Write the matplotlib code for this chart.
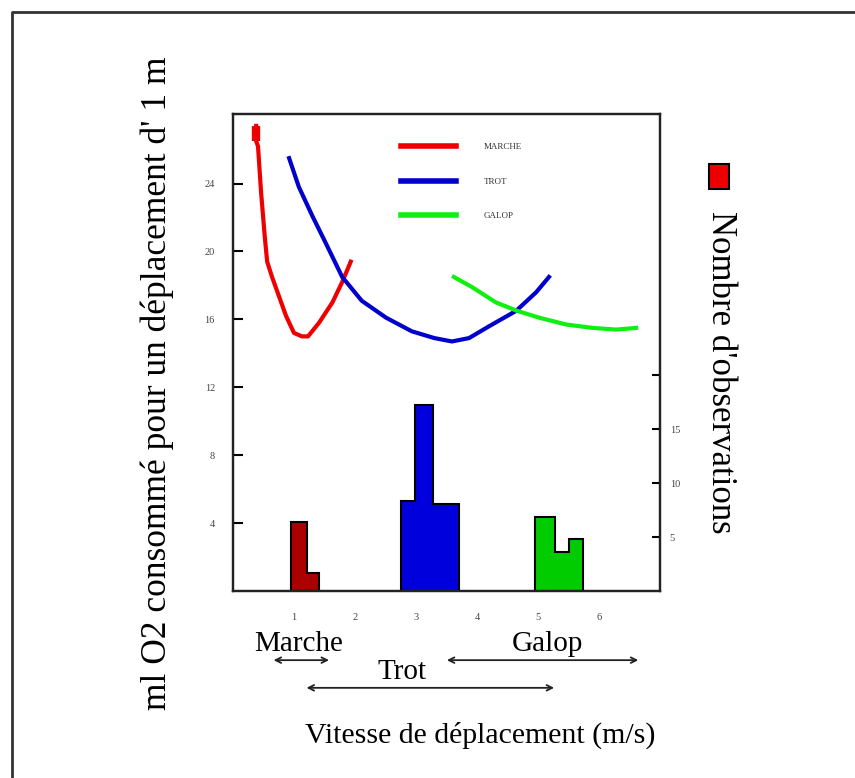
import numpy as np
import matplotlib.pyplot as plt
from matplotlib.patches import Rectangle
from matplotlib.lines import Line2D

plt.rcParams['font.family'] = ['Liberation Serif', 'DejaVu Serif']

# O2 cost curves (speed m/s, ml O2 per m)
marche_x = [0.38, 0.38, 0.41, 0.46, 0.52, 0.56, 0.64, 0.75, 0.87, 1.00, 1.13, 1.23, 1.41, 1.63, 1.79, 1.93]
marche_y = [27.4, 26.5, 26.2, 23.5, 20.9, 19.4, 18.5, 17.4, 16.2, 15.2, 15.0, 15.0, 15.8, 17.0, 18.2, 19.4]
trot_x = [0.92, 1.08, 1.30, 1.52, 1.79, 2.11, 2.51, 2.93, 3.30, 3.59, 3.87, 4.20, 4.64, 4.97, 5.18]
trot_y = [25.5, 23.8, 22.1, 20.5, 18.5, 17.1, 16.1, 15.3, 14.9, 14.7, 14.9, 15.6, 16.5, 17.6, 18.5]
galop_x = [3.62, 3.92, 4.31, 4.66, 5.02, 5.46, 5.89, 6.28, 6.61]
galop_y = [18.5, 17.9, 17.0, 16.5, 16.1, 15.7, 15.5, 15.4, 15.5]

# histograms of observations
marche_edges = [0.95, 1.21, 1.41]
marche_counts = [6.4, 1.7]
trot_edges = [2.75, 2.98, 3.28, 3.70]
trot_counts = [8.3, 17.2, 8.1]
galop_edges = [4.95, 5.28, 5.51, 5.74]
galop_counts = [6.85, 3.6, 4.8]

# gait speed ranges
gaits = ['Marche', 'Trot', 'Galop']
gait_ranges = [(0.62, 1.62), (1.16, 5.31), (3.46, 6.69)]
gait_label_x = [1.08, 2.77, 5.15]

fig = plt.figure(figsize=(8.55, 7.78), dpi=100)
ax = fig.add_axes([233/855, 1-591/778, 427/855, 477/778])
ax2 = ax.twinx()

# histograms on right axis
for edges, counts, col in [(marche_edges, marche_counts, '#aa0000'),
                           (trot_edges, trot_counts, '#0000dd'),
                           (galop_edges, galop_counts, '#00cc00')]:
    ax2.stairs(counts, edges, fill=True, color=col)
    ax2.stairs(counts, edges, baseline=0, color='black', lw=1.5)

ax.plot(marche_x[:2], marche_y[:2], color='#ee0000', lw=6, solid_capstyle='butt')
ax.plot(marche_x, marche_y, color='#ee0000', lw=3, label='MARCHE')
ax.plot(trot_x, trot_y, color='#0000cc', lw=3, label='TROT')
ax.plot(galop_x, galop_y, color='#11ee11', lw=3, label='GALOP')
ax.set_zorder(ax2.get_zorder() + 1)
ax.patch.set_visible(False)

ax.set_xlim(0, 7)
ax.set_ylim(0, 28.1)
ax2.set_ylim(0, 44.2)

for a in (ax, ax2):
    for s in a.spines.values():
        s.set_linewidth(1.6)
        s.set_color('#222222')

ax.set_yticks([4, 8, 12, 16, 20, 24])
ax.tick_params(axis='y', direction='in', length=7, width=1.5, pad=13,
               labelsize=7.5, labelcolor='#444444')
ax.set_xticks([1, 2, 3, 4, 5, 6])
ax.set_xticks([2, 4, 6], minor=True)
ax.tick_params(axis='x', which='major', length=0, pad=16, labelsize=7.5, labelcolor='#444444')
ax.tick_params(axis='x', which='minor', direction='in', length=7, width=1.5)
ax2.set_yticks([5, 10, 15, 20])
ax2.set_yticklabels(['5', '10', '15', ''])
ax2.tick_params(axis='y', direction='in', length=6, width=1.5, pad=7,
                labelsize=7.5, labelcolor='#444444')

leg = ax.legend(loc='upper left', bbox_to_anchor=(0.375, 0.956), frameon=False,
                fontsize=6.5, handlelength=6.1, handletextpad=3.0, labelspacing=2.9)
for h in leg.get_lines():
    h.set_linewidth(4)
for t in leg.get_texts():
    t.set_color('#333333')

# gait ranges under the axis
tr = ax.get_xaxis_transform()
for name, (x0, x1), lx in zip(gaits, gait_ranges, gait_label_x):
    ylab, yarr = (-0.17, -0.203) if name == 'Trot' else (-0.112, -0.145)
    ax.annotate('', xy=(x1, yarr), xytext=(x0, yarr), xycoords=tr, textcoords=tr,
                arrowprops=dict(arrowstyle='<->', lw=1.3, color='#222222'),
                annotation_clip=False)
    ax.text(lx, ylab, name, transform=tr, ha='center', va='center', fontsize=21)

fig.text(157/855, 1-383/778, "ml O2 consommé pour un déplacement d' 1 m",
         rotation=90, ha='center', va='center', fontsize=25.5)
fig.text(480/855, 1-735/778, 'Vitesse de déplacement (m/s)',
         ha='center', va='center', fontsize=21.5)
fig.text(720/855, 1-372/778, "Nombre d'observations",
         rotation=270, ha='center', va='center', fontsize=25)
fig.add_artist(Rectangle((709/855, 1-189/778), 20/855, 25/778, transform=fig.transFigure,
                         facecolor='#ee0000', edgecolor='black', lw=1.5))

# page frame (top and left)
fig.add_artist(Line2D([12/855, 12/855, 1], [0, 1-12/778, 1-12/778],
                      transform=fig.transFigure, color='#333333', lw=2))

fig.savefig('out.png', dpi=100)
